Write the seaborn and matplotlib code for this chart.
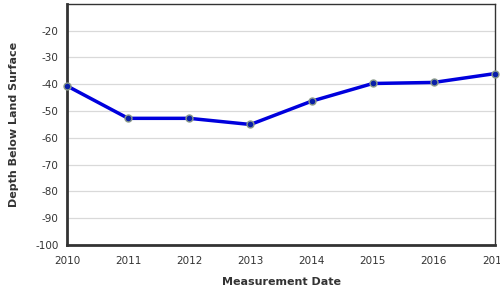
import matplotlib
matplotlib.use("Agg")
import matplotlib.pyplot as plt
import seaborn as sns
import pandas as pd

years = [2010, 2011, 2012, 2013, 2014, 2015, 2016, 2017]
depth = [-40.6, -52.7, -52.7, -55.0, -46.3, -39.7, -39.3, -36.0]
yticks = [-100, -90, -80, -70, -60, -50, -40, -30, -20]

df = pd.DataFrame({"year": years, "depth": depth})

sns.set_style("white")
plt.rcParams['font.family'] = ['DejaVu Sans']
plt.rcParams['axes.unicode_minus'] = False

fig = plt.figure(figsize=(5, 3), dpi=100)
ax = fig.add_axes([0.134, 0.183, 0.856, 0.804])

for t in yticks:
    ax.axhline(t, color="#d9d9d9", lw=0.9, zorder=0)

sns.lineplot(data=df, x="year", y="depth", ax=ax, color="#0000dd", lw=2.5,
             marker="o", markersize=5, markerfacecolor="#0a1fa8",
             markeredgecolor="#8a9a8a", markeredgewidth=1.0, zorder=3,
             clip_on=False)

ax.set_xlim(2010, 2017)
ax.set_ylim(-100, -10)
ax.set_xticks(years)
ax.set_xticklabels([str(y) for y in years])
ax.set_yticks(yticks)
ax.tick_params(axis="both", labelsize=7.5, colors="#333333", length=4, width=1,
               direction="out", pad=2)
ax.tick_params(axis="x", pad=4)

for side in ["left", "bottom"]:
    ax.spines[side].set_linewidth(2)
    ax.spines[side].set_color("#333333")
for side in ["top", "right"]:
    ax.spines[side].set_linewidth(1)
    ax.spines[side].set_color("#333333")

ax.set_xlabel("Measurement Date", fontsize=8, fontweight="bold", color="#333333", labelpad=8)
ax.set_ylabel("Depth Below Land Surface", fontsize=8, fontweight="bold", color="#333333", labelpad=12)

fig.savefig("out.png", dpi=100)
